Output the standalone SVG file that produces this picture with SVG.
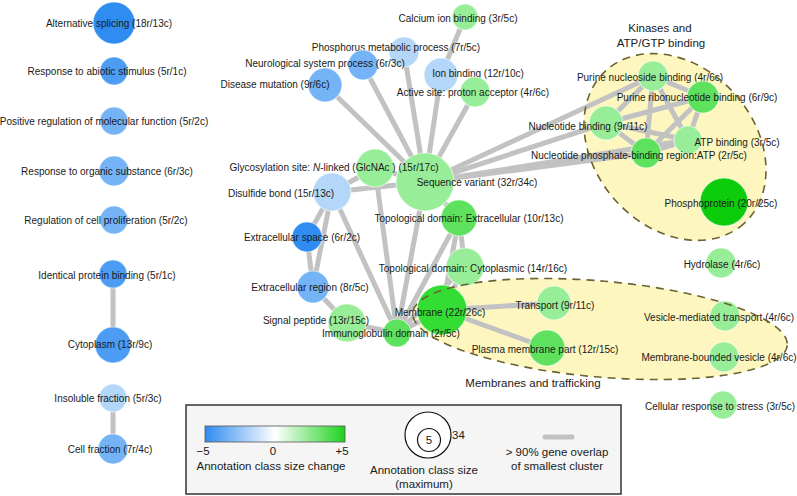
<svg xmlns="http://www.w3.org/2000/svg" width="797" height="496" viewBox="0 0 797 496">
<defs>
<linearGradient id="grad" x1="0" y1="0" x2="1" y2="0">
<stop offset="0" stop-color="#2e8bf0"/>
<stop offset="0.5" stop-color="#ffffff"/>
<stop offset="1" stop-color="#1ed21e"/>
</linearGradient>
<style>
text{font-family:"Liberation Sans",Arial,sans-serif;font-size:10px;fill:#1a1a1a;text-anchor:middle}
.t{font-size:11.5px}
.e line{stroke:#c2c2c2;stroke-width:5;stroke-linecap:round}
.n circle{stroke:#ffffff;stroke-opacity:0.55;stroke-width:1.2}
.lc{fill:#ffffff;stroke:#111111;stroke-width:1.2}
.b1{fill:#2f8cf0}.b2{fill:#4b9cf2}.b3{fill:#74b3f5}.b4{fill:#b3d6f9}
.g1{fill:#98ee98}.g2{fill:#5ee25e}.g3{fill:#33dd33}.g4{fill:#0ccc0c}
.clf{fill:#fdf7bf}
.cls{fill:none;stroke:#6b6232;stroke-width:1.6;stroke-dasharray:8 6}
</style>
</defs>
<rect width="797" height="496" fill="#ffffff"/>
<g id="clusters-fill">
<ellipse class="clf" cx="675" cy="147" rx="103" ry="80" transform="rotate(48 675 147)"/>
<ellipse class="clf" cx="600" cy="329" rx="188" ry="48" transform="rotate(5 600 329)"/>
</g>
<g id="connectors" class="e">
<line x1="425" y1="182" x2="325" y2="85"/>
<line x1="425" y1="182" x2="363" y2="65"/>
<line x1="425" y1="182" x2="404" y2="52"/>
<line x1="425" y1="182" x2="441" y2="75"/>
<line x1="425" y1="182" x2="475" y2="92"/>
<line x1="465" y1="17" x2="441" y2="75"/>
<line x1="425" y1="182" x2="375" y2="168"/>
<line x1="425" y1="182" x2="332" y2="192"/>
<line x1="375" y1="168" x2="332" y2="192"/>
<line x1="425" y1="182" x2="653" y2="76"/>
<line x1="425" y1="182" x2="606" y2="123"/>
<line x1="425" y1="182" x2="646" y2="153"/>
<line x1="425" y1="182" x2="688" y2="140"/>
<line x1="425" y1="182" x2="459" y2="218"/>
<line x1="425" y1="182" x2="397" y2="333"/>
<line x1="375" y1="168" x2="397" y2="333"/>
<line x1="332" y1="192" x2="307" y2="237"/>
<line x1="332" y1="192" x2="313" y2="287"/>
<line x1="332" y1="192" x2="397" y2="333"/>
<line x1="307" y1="237" x2="313" y2="287"/>
<line x1="313" y1="287" x2="347" y2="323"/>
<line x1="347" y1="323" x2="397" y2="333"/>
<line x1="397" y1="333" x2="442" y2="310"/>
<line x1="397" y1="333" x2="459" y2="218"/>
<line x1="397" y1="333" x2="465" y2="267"/>
<line x1="459" y1="218" x2="465" y2="267"/>
<line x1="459" y1="218" x2="442" y2="310"/>
<line x1="465" y1="267" x2="442" y2="310"/>
<line x1="442" y1="310" x2="554" y2="303"/>
<line x1="442" y1="310" x2="547" y2="348"/>
<line x1="653" y1="76" x2="703" y2="97"/>
<line x1="653" y1="76" x2="606" y2="123"/>
<line x1="653" y1="76" x2="646" y2="153"/>
<line x1="653" y1="76" x2="688" y2="140"/>
<line x1="703" y1="97" x2="606" y2="123"/>
<line x1="703" y1="97" x2="688" y2="140"/>
<line x1="703" y1="97" x2="646" y2="153"/>
<line x1="606" y1="123" x2="688" y2="140"/>
<line x1="606" y1="123" x2="646" y2="153"/>
<line x1="688" y1="140" x2="646" y2="153"/>
<line x1="113" y1="274" x2="113" y2="345"/>
<line x1="113" y1="398" x2="113" y2="449"/>
</g>
<g class="n">
<g id="n-sequence-variant"><circle class="g1" cx="425" cy="182" r="29"/><text x="477" y="186">Sequence variant (32r/34c)</text></g>
<g id="n-disulfide"><circle class="b4" cx="332" cy="192" r="19"/><text x="281" y="197">Disulfide bond (15r/13c)</text></g>
<g id="n-glycosylation"><circle class="g1" cx="375" cy="168" r="19"/><text x="334" y="171">Glycosylation site: <tspan font-style="italic">N</tspan>-linked (GlcNAc ) (15r/17c)</text></g>
<g id="n-phosphorus"><circle class="b4" cx="404" cy="52" r="15"/><text x="396" y="51">Phosphorus metabolic process (7r/5c)</text></g>
<g id="n-neurological"><circle class="b3" cx="363" cy="65" r="15"/><text x="325" y="67">Neurological system process (6r/3c)</text></g>
<g id="n-disease"><circle class="b3" cx="325" cy="85" r="17"/><text x="275" y="88">Disease mutation (9r/6c)</text></g>
<g id="n-calcium"><circle class="g1" cx="465" cy="17" r="13"/><text x="458" y="22">Calcium ion binding (3r/5c)</text></g>
<g id="n-ion"><circle class="b4" cx="441" cy="75" r="17"/><text x="478" y="77">Ion binding (12r/10c)</text></g>
<g id="n-active-site"><circle class="g1" cx="475" cy="92" r="15"/><text x="473" y="96">Active site: proton acceptor (4r/6c)</text></g>
<g id="n-topo-extra"><circle class="g2" cx="459" cy="218" r="18"/><text x="469" y="222">Topological domain: Extracellular (10r/13c)</text></g>
<g id="n-topo-cyto"><circle class="g1" cx="465" cy="267" r="19"/><text x="473" y="272">Topological domain: Cytoplasmic (14r/16c)</text></g>
<g id="n-ext-space"><circle class="b1" cx="307" cy="237" r="15"/><text x="302" y="241">Extracellular space (6r/2c)</text></g>
<g id="n-ext-region"><circle class="b3" cx="313" cy="287" r="16"/><text x="310" y="291">Extracellular region (8r/5c)</text></g>
<g id="n-signal"><circle class="g1" cx="347" cy="323" r="19"/><text x="316" y="324">Signal peptide (13r/15c)</text></g>
<g id="n-membrane"><circle class="g3" cx="442" cy="310" r="25"/><text x="440" y="316">Membrane (22r/26c)</text></g>
<g id="n-immuno"><circle class="g2" cx="397" cy="333" r="14"/><text x="391" y="337">Immunoglobulin domain (2r/5c)</text></g>
<g id="n-transport"><circle class="g1" cx="554" cy="303" r="17"/><text x="555" y="309">Transport (9r/11c)</text></g>
<g id="n-plasma"><circle class="g2" cx="547" cy="348" r="18"/><text x="545" y="353">Plasma membrane part (12r/15c)</text></g>
<g id="n-purine-nuc"><circle class="g1" cx="653" cy="76" r="15"/><text x="650" y="81">Purine nucleoside binding (4r/6c)</text></g>
<g id="n-purine-ribo"><circle class="g2" cx="703" cy="97" r="16"/><text x="697" y="101">Purine ribonucleotide binding (6r/9c)</text></g>
<g id="n-nuc-binding"><circle class="g1" cx="606" cy="123" r="17"/><text x="588" y="130">Nucleotide binding (9r/11c)</text></g>
<g id="n-atp"><circle class="g1" cx="688" cy="140" r="14"/><text x="737" y="146">ATP binding (3r/5c)</text></g>
<g id="n-nuc-phos"><circle class="g2" cx="646" cy="153" r="15"/><text x="639" y="159">Nucleotide phosphate-binding region:ATP (2r/5c)</text></g>
<g id="n-phosphoprotein"><circle class="g4" cx="724" cy="202" r="24"/><text x="721" y="207">Phosphoprotein (20r/25c)</text></g>
<g id="n-hydrolase"><circle class="g1" cx="721" cy="263" r="15"/><text x="722" y="268">Hydrolase (4r/6c)</text></g>
<g id="n-vesicle-transport"><circle class="g1" cx="725" cy="316" r="15"/><text x="719" y="321">Vesicle-mediated transport (4r/6c)</text></g>
<g id="n-membrane-vesicle"><circle class="g1" cx="724" cy="357" r="15"/><text x="719" y="361">Membrane-bounded vesicle (4r/6c)</text></g>
<g id="n-stress"><circle class="g1" cx="723" cy="405" r="14"/><text x="720" y="410">Cellular response to stress (3r/5c)</text></g>
<g id="n-alt-splicing"><circle class="b1" cx="114" cy="23" r="21"/><text x="109" y="27">Alternative splicing (18r/13c)</text></g>
<g id="n-abiotic"><circle class="b2" cx="114" cy="71" r="14"/><text x="107" y="75">Response to abiotic stimulus (5r/1c)</text></g>
<g id="n-pos-reg"><circle class="b3" cx="114" cy="121" r="14"/><text x="104" y="125">Positive regulation of molecular function (5r/2c)</text></g>
<g id="n-organic"><circle class="b3" cx="114" cy="171" r="15"/><text x="107" y="175">Response to organic substance (6r/3c)</text></g>
<g id="n-prolif"><circle class="b3" cx="114" cy="220" r="14"/><text x="106" y="224">Regulation of cell proliferation (5r/2c)</text></g>
<g id="n-identical"><circle class="b2" cx="113" cy="274" r="14"/><text x="107" y="279">Identical protein binding (5r/1c)</text></g>
<g id="n-cytoplasm"><circle class="b2" cx="113" cy="345" r="18"/><text x="110" y="348">Cytoplasm (13r/9c)</text></g>
<g id="n-insoluble"><circle class="b4" cx="113" cy="398" r="14"/><text x="108" y="402">Insoluble fraction (5r/3c)</text></g>
<g id="n-cell-fraction"><circle class="b3" cx="113" cy="449" r="15"/><text x="110" y="453">Cell fraction (7r/4c)</text></g>
</g>
<g id="clusters-outline">
<ellipse class="cls" cx="675" cy="147" rx="103" ry="80" transform="rotate(48 675 147)"/>
<ellipse class="cls" cx="600" cy="329" rx="188" ry="48" transform="rotate(5 600 329)"/>
<text class="t" x="660" y="32">Kinases and</text>
<text class="t" x="661" y="47">ATP/GTP binding</text>
<text class="t" x="533" y="387">Membranes and trafficking</text>
</g>
<g id="legend">
<rect x="186" y="405" width="435" height="89" fill="#f5f5f5" stroke="#333333" stroke-width="1.5"/>
<rect x="205" y="426" width="140" height="16" fill="url(#grad)" stroke="#555555" stroke-width="0.8"/>
<text class="t" x="203" y="455">−5</text>
<text class="t" x="273" y="455">0</text>
<text class="t" x="342" y="455">+5</text>
<text class="t" x="271" y="470">Annotation class size change</text>
<circle class="lc" cx="428" cy="435" r="23"/>
<circle class="lc" cx="429" cy="440" r="11.5"/>
<text class="t" x="429" y="444">5</text>
<text class="t" x="452" y="439" style="text-anchor:start">34</text>
<text class="t" x="424" y="474">Annotation class size</text>
<text class="t" x="424" y="488">(maximum)</text>
<line x1="545" y1="437" x2="572" y2="437" stroke="#c2c2c2" stroke-width="5" stroke-linecap="round"/>
<text class="t" x="557" y="456">&gt; 90% gene overlap</text>
<text class="t" x="557" y="470">of smallest cluster</text>
</g>
</svg>
